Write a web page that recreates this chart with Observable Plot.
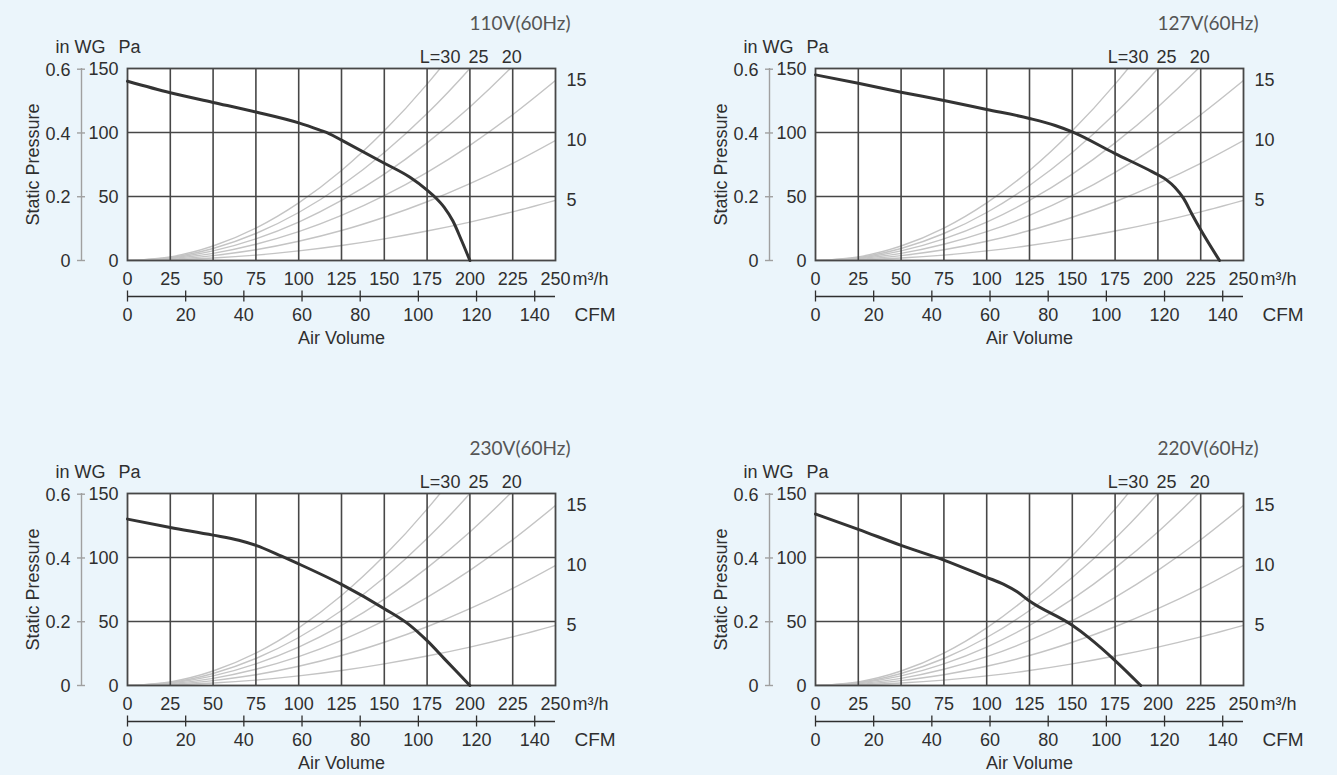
<!DOCTYPE html>
<html>
<head>
<meta charset="utf-8">
<script src="https://cdn.jsdelivr.net/npm/d3@7"></script>
<script src="https://cdn.jsdelivr.net/npm/@observablehq/plot@0.6"></script>
<style>
  html, body { margin: 0; padding: 0; background: #ebf5fb; }
  #root { position: relative; width: 1337px; height: 775px; overflow: hidden; background: #ebf5fb; }
  #root svg { position: absolute; overflow: visible; }
</style>
</head>
<body>
<div id="root"></div>
<script>
// ---------- data ----------
const xTicks = [0, 25, 50, 75, 100, 125, 150, 175, 200, 225, 250];   // m³/h
const yTicks = [0, 50, 100, 150];                                      // Pa
const inwgTicks = [0, 0.2, 0.4, 0.6];                                  // in WG
const cfmTicks = [0, 20, 40, 60, 80, 100, 120, 140];                   // CFM
const M3H_PER_CFM = 1.699;
const PA_PER_INWG = 249.09;

// duct resistance curves (static pressure, Pa, read at each m³/h gridline)
const qGrid = [0, 25, 50, 75, 100, 125, 150, 175, 200, 225, 250];
const ductL = [5, 10, 15, 20, 25, 30];
const duct5  = [0, 0.5, 1.9, 4.2, 7.5, 11.7, 16.9, 23.0, 30.0, 38.0, 47.0];
const duct10 = [0, 0.9, 3.8, 8.4, 15.0, 23.4, 33.8, 45.9, 60.0, 75.9, 93.8];
const duct15 = [0, 1.4, 5.6, 12.7, 22.5, 35.2, 50.6, 68.9, 90.0, 113.9, 140.6];
const duct20 = [0, 1.9, 7.5, 16.9, 30.0, 46.9, 67.5, 91.9, 120.0, 151.9, 187.5];
const duct25 = [0, 2.3, 9.4, 21.1, 37.5, 58.6, 84.4, 114.8, 150.0, 189.8, 234.4];
const duct30 = [0, 2.8, 11.3, 25.3, 45.0, 70.3, 101.3, 137.8, 180.0, 227.8, 281.3];
const topLabels = ["L=30", "25", "20"];
const topLabelQ = [182.6, 205, 224.5];
const rightLabels = ["15", "10", "5"];

// fan curves
const titles = ["110V(60Hz)", "127V(60Hz)", "230V(60Hz)", "220V(60Hz)"];
const q110 = [0, 25, 50, 75, 100, 112, 118, 125, 150, 165, 175, 180, 185, 190, 195, 200];
const p110 = [140, 131, 123.5, 116, 107.5, 102, 99, 94, 76, 65, 55, 49, 41.5, 31, 16, 0];
const q127 = [0, 25, 50, 75, 100, 125, 140, 150, 175, 195, 200, 205, 210, 215, 220, 225, 236];
const p127 = [145, 138.5, 131.5, 125, 118, 111, 105.5, 100.5, 83.5, 70.5, 67, 63, 57, 48.5, 36, 24, 0];
const q230 = [0, 25, 50, 65, 75, 90, 100, 125, 150, 165, 175, 185, 200];
const p230 = [130, 123.5, 117.5, 113.5, 109.5, 101, 95, 79, 60, 47, 35, 21, 0];
const q220 = [0, 25, 50, 75, 100, 110, 118, 125, 150, 160, 175, 190];
const p220 = [134, 122, 109.5, 98, 84.5, 79, 73, 66, 47, 37, 19.5, 0];

// ---------- build ----------
const ductSeries = [duct5, duct10, duct15, duct20, duct25, duct30];
const ductRows = [];
ductSeries.forEach((vals, k) => vals.forEach((p, i) => ductRows.push({L: ductL[k], q: qGrid[i], p})));
const rightEnds = [duct15, duct10, duct5].map((vals, i) => ({text: rightLabels[i], q: qGrid[qGrid.length - 1], p: vals[vals.length - 1]}));
const topRows = topLabels.map((t, i) => ({text: t, q: topLabelQ[i]}));

const FONT = "'Liberation Sans', Arial, Helvetica, sans-serif";
const INK = "#2f2f2f";
const GRID = "#474747";

function panel(title, qs, ps) {
  const fan = qs.map((q, i) => ({q, p: ps[i]}));
  const txt = {fontSize: 18, fill: INK, lineAnchor: "middle"};
  return Plot.plot({
    width: 640, height: 350,
    marginLeft: 127, marginRight: 85, marginTop: 68, marginBottom: 90,
    x: {domain: [0, 250], axis: null},
    y: {domain: [0, 150], axis: null},
    style: {background: "transparent", fontFamily: FONT, overflow: "visible"},
    marks: [
      Plot.frame({fill: "white", stroke: null}),
      Plot.line(ductRows, {x: "q", y: "p", z: "L", stroke: "#c4c4c4", strokeWidth: 1.4, curve: "monotone-x", clip: true}),
      Plot.ruleX(xTicks.slice(1, -1), {stroke: GRID, strokeWidth: 1.6}),
      Plot.ruleY(yTicks.slice(1, -1), {stroke: GRID, strokeWidth: 1.6}),
      Plot.frame({stroke: GRID, strokeWidth: 1.8}),
      Plot.line(fan, {x: "q", y: "p", stroke: "#333", strokeWidth: 3, curve: "monotone-x"}),
      // x (m³/h) labels
      Plot.text(xTicks, {x: d => d, frameAnchor: "bottom", textAnchor: "middle", dy: 19, ...txt}),
      Plot.text(["m³/h"], {frameAnchor: "bottom-right", textAnchor: "start", dx: 17, dy: 19, ...txt}),
      // CFM axis
      Plot.ruleY([0], {x1: 0, x2: 250, dy: 36, stroke: INK, strokeWidth: 1.3}),
      Plot.ruleX(cfmTicks, {x: c => c * M3H_PER_CFM, y1: 0, y2: 0, dy: 36, insetTop: -5.5, insetBottom: -5.5, stroke: INK, strokeWidth: 1.3}),
      Plot.text(cfmTicks, {x: c => c * M3H_PER_CFM, frameAnchor: "bottom", textAnchor: "middle", dy: 55, ...txt}),
      Plot.text(["CFM"], {frameAnchor: "bottom-right", textAnchor: "start", dx: 19, dy: 54, ...txt, fontSize: 19}),
      Plot.text(["Air Volume"], {frameAnchor: "bottom", textAnchor: "middle", dy: 78, ...txt}),
      // Pa axis
      Plot.text(yTicks, {y: d => d, frameAnchor: "left", textAnchor: "end", dx: -9, dy: 1, ...txt}),
      // in WG axis
      Plot.ruleX([0], {y1: 0, y2: 150, dx: -46, stroke: "#a0a0a0", strokeWidth: 1.4}),
      Plot.ruleY(inwgTicks, {y: d => d * PA_PER_INWG, x1: 0, x2: 0, dx: -46, insetLeft: -4, insetRight: -4, stroke: "#a0a0a0", strokeWidth: 1.4}),
      Plot.text(inwgTicks, {y: d => d * PA_PER_INWG, text: d => String(d), frameAnchor: "left", textAnchor: "end", dx: -57, dy: 1, ...txt}),
      Plot.text(["in WG"], {frameAnchor: "top-left", textAnchor: "end", dx: -22, dy: -21, ...txt}),
      Plot.text(["Pa"], {frameAnchor: "top-left", textAnchor: "start", dx: -9, dy: -21, ...txt}),
      Plot.text(["Static Pressure"], {frameAnchor: "left", textAnchor: "middle", rotate: -90, dx: -94, ...txt}),
      // duct labels
      Plot.text(topRows, {x: "q", text: "text", frameAnchor: "top", textAnchor: "middle", dy: -11, ...txt}),
      Plot.text(rightEnds, {x: "q", y: "p", text: "text", textAnchor: "start", dx: 11, ...txt}),
      // title
      Plot.text([title], {frameAnchor: "top-right", textAnchor: "end", dx: 15, dy: -45, ...txt, fontSize: 19, fill: "#555", fontFamily: "Lato, 'Open Sans', sans-serif"})
    ]
  });
}

const root = document.getElementById("root");
const specs = [
  [titles[0], q110, p110, 0, 0],
  [titles[1], q127, p127, 688, 0],
  [titles[2], q230, p230, 0, 425],
  [titles[3], q220, p220, 688, 425]
];
for (const [t, q, p, left, top] of specs) {
  const svg = panel(t, q, p);
  svg.style.left = left + "px";
  svg.style.top = top + "px";
  root.appendChild(svg);
}
</script>
</body>
</html>
